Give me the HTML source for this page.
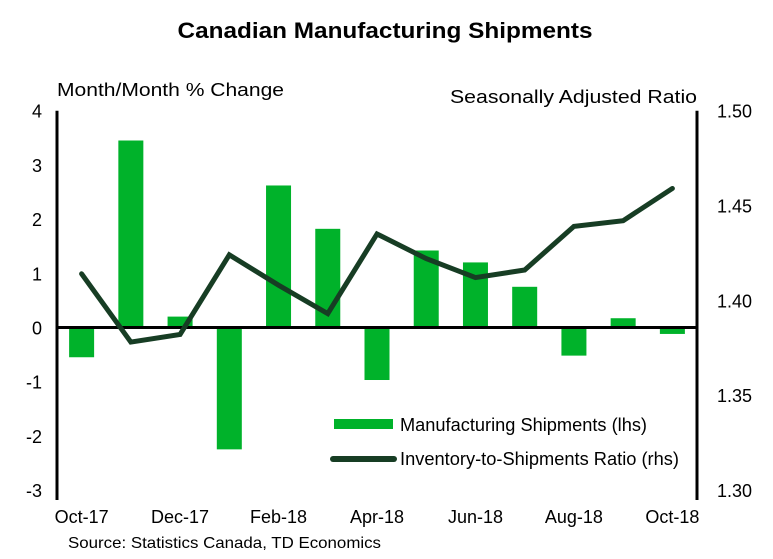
<!DOCTYPE html>
<html><head><meta charset="utf-8"><style>
body{margin:0;background:#fff;}
svg{display:block;font-family:"Liberation Sans",sans-serif;}
</style></head><body>
<svg id="chart" width="773" height="559" viewBox="0 0 773 559" xmlns="http://www.w3.org/2000/svg">
<text x="385" y="38" text-anchor="middle" font-size="22" font-weight="bold" textLength="415" lengthAdjust="spacingAndGlyphs">Canadian Manufacturing Shipments</text>
<text x="57" y="96" font-size="18" textLength="227" lengthAdjust="spacingAndGlyphs">Month/Month % Change</text>
<text x="697" y="103" font-size="18" text-anchor="end" textLength="247" lengthAdjust="spacingAndGlyphs">Seasonally Adjusted Ratio</text>
<g id="bars"></g>
<g id="axes"></g>
<g id="line"></g>
<g>
<rect x="334" y="419" width="59" height="10" fill="#00b22a"/>
<text x="400" y="431" font-size="18" textLength="247" lengthAdjust="spacingAndGlyphs">Manufacturing Shipments (lhs)</text>
<line x1="333" y1="459" x2="394" y2="459" stroke="#173d24" stroke-width="6" stroke-linecap="round"/>
<text x="400" y="465" font-size="18" textLength="279" lengthAdjust="spacingAndGlyphs">Inventory-to-Shipments Ratio (rhs)</text>
</g>
<text x="68" y="548" font-size="16" textLength="313" lengthAdjust="spacingAndGlyphs">Source: Statistics Canada, TD Economics</text>
</svg>
<script>
const categories=["Oct-17","Nov-17","Dec-17","Jan-18","Feb-18","Mar-18","Apr-18","May-18","Jun-18","Jul-18","Aug-18","Sep-18","Oct-18"];
const shipments=[-0.55,3.45,0.2,-2.25,2.62,1.82,-0.97,1.42,1.2,0.75,-0.52,0.17,-0.12];
const ratio=[1.414,1.378,1.382,1.424,1.408,1.393,1.435,1.422,1.412,1.416,1.439,1.442,1.459];
const leftTicks=[4,3,2,1,0,-1,-2,-3];
const rightTicks=["1.50","1.45","1.40","1.35","1.30"];
const xLabelIdx=[0,2,4,6,8,10,12];
const NS="http://www.w3.org/2000/svg";
const X0=57,X1=697,YT=110.7,YB=490;
const band=(X1-X0)/categories.length;
const xc=i=>X0+band*(i+0.5);
const yL=v=>YT+(4-v)*(YB-YT)/7;
const yR=v=>YT+(1.5-v)*(YB-YT)/0.2;
function mk(tag,attrs,parent){const e=document.createElementNS(NS,tag);for(const k in attrs)e.setAttribute(k,attrs[k]);parent.appendChild(e);return e;}
const bars=document.getElementById('bars');
shipments.forEach((v,i)=>{
 const y0=yL(0),y1=yL(v);
 const r=mk('rect',{x:xc(i)-12.5,y:Math.min(y0,y1),width:25,height:Math.abs(y1-y0),fill:'#00b22a'},bars);
 
 
});
const axes=document.getElementById('axes');
let a=mk('line',{x1:X0,y1:YT,x2:X0,y2:500,stroke:'#000','stroke-width':3},axes);


a=mk('line',{x1:X1,y1:YT,x2:X1,y2:500,stroke:'#000','stroke-width':3},axes);


a=mk('line',{x1:X0,y1:yL(0),x2:X1,y2:yL(0),stroke:'#000','stroke-width':3},axes);


leftTicks.forEach(v=>{
 const t=mk('text',{x:42,y:yL(v)+7,'text-anchor':'end','font-size':18},axes);
 t.textContent=String(v);
 
 
});
rightTicks.forEach(s=>{
 const t=mk('text',{x:717,y:yR(parseFloat(s))+7,'font-size':18},axes);
 t.textContent=s;
 
 
});
xLabelIdx.forEach(i=>{
 const t=mk('text',{x:xc(i),y:523,'text-anchor':'middle','font-size':18},axes);
 t.textContent=categories[i];
 
 
});
const pts=ratio.map((v,i)=>xc(i)+','+yR(v)).join(' ');
const pl=mk('polyline',{points:pts,fill:'none',stroke:'#173d24','stroke-width':5,'stroke-linejoin':'miter','stroke-linecap':'round'},document.getElementById('line'));


</script>
</body></html>
